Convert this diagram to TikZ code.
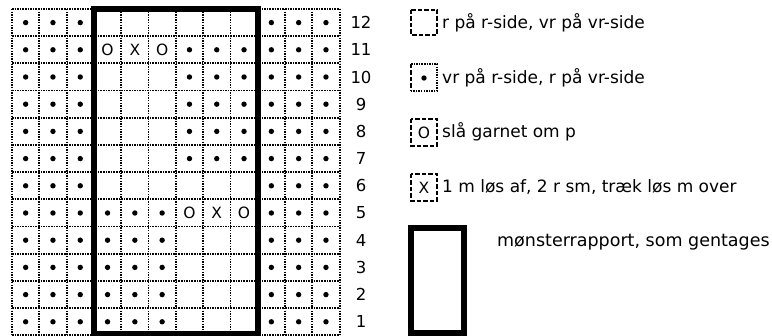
\documentclass[tikz,border=0pt]{standalone}
\usepackage{fontspec}
\setmainfont{DejaVu Sans}
\begin{document}
\begin{tikzpicture}[x=1pt,y=-1pt,
  gridline/.style={line width=1.8pt, dash pattern=on 1.5pt off 1.1pt},
  legdash/.style={line width=2pt, dash pattern=on 4.5pt off 2pt},
  thickbox/.style={line width=6pt},
  stitchdot/.style={fill=black},
  sym/.style={font=\fontsize{15.5}{17}\selectfont, inner sep=0pt},
  rownum/.style={font=\fontsize{16.5}{18}\selectfont, inner sep=0pt},
  legtext/.style={font=\fontsize{17}{19}\selectfont, anchor=west, inner sep=0pt}]
\useasboundingbox (0,0) rectangle (772,336);
\fill[white] (0,0) rectangle (772,336);
\def\cw{27.3}\def\rh{27.2}\def\gx{12}\def\gb{335.4}
% grid lines
\foreach \c in {0,...,12}{
  \draw[gridline] ({\gx+\cw*\c},{\gb-12*\rh}) -- ({\gx+\cw*\c},\gb);
}
\foreach \r in {0,...,12}{
  \draw[gridline] (\gx,{\gb-\rh*\r}) -- ({\gx+12*\cw},{\gb-\rh*\r});
}
% dots
\newcommand{\stdot}[2]{\fill[stitchdot] ({\gx+\cw*(#1-0.5)},{\gb-\rh*(#2-0.5)}) circle (2.7pt);}
\newcommand{\stsym}[3]{\node[sym] at ({\gx+\cw*(#1-0.5)},{\gb-\rh*(#2-0.5)}) {#3};}
\foreach \r in {1,...,12}{
  \foreach \c in {1,2,3,10,11,12}{ \stdot{\c}{\r} }
}
\foreach \r in {7,...,11}{
  \foreach \c in {7,8,9}{ \stdot{\c}{\r} }
}
\foreach \r in {1,...,5}{
  \foreach \c in {4,5,6}{ \stdot{\c}{\r} }
}
\stsym{4}{11}{O}\stsym{5}{11}{X}\stsym{6}{11}{O}
\stsym{7}{5}{O}\stsym{8}{5}{X}\stsym{9}{5}{O}
% thick repeat box
\draw[thickbox] ({\gx+3*\cw},{\gb-12*\rh}) rectangle ({\gx+9*\cw},{\gb-1.5});
% row numbers
\foreach \r in {1,...,12}{
  \node[rownum] (n\r) at (361,{\gb-\rh*(\r-0.5)}) {\r};
}
% legend
\draw[legdash] (411,10) rectangle (437,35);
\node[legtext] (l1) at (442,23) {r på r-side, vr på vr-side};
\draw[gridline] (411,64) -- (437,64) -- (437,91) -- (411,91);
\draw[legdash] (411,64) -- (411,91);
\fill[stitchdot] (424,78) circle (2.7pt);
\node[legtext] (l2) at (442,78) {vr på r-side, r på vr-side};
\draw[legdash] (411,119) rectangle (437,146);
\node[sym] (o1) at (424,132.5) {O};
\node[legtext] (l3) at (442,132) {slå garnet om p};
\draw[legdash] (411,174) rectangle (437,201);
\node[sym] (x1) at (424,187.5) {X};
\node[legtext] (l4) at (442,187) {1 m løs af, 2 r sm, træk løs m over};
\draw[thickbox] (411,228) rectangle (464,333);
\node[legtext, font=\fontsize{17.5}{19}\selectfont] (l5) at (497,242) {mønsterrapport, som gentages};
\end{tikzpicture}
\end{document}
